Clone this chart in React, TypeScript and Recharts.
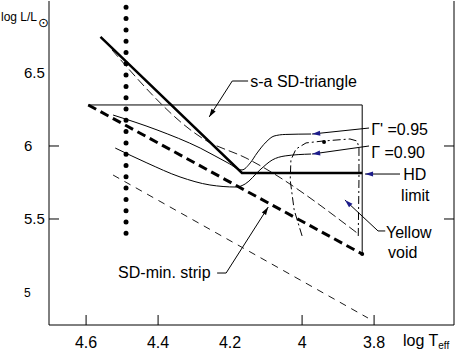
import React from 'react';
import { LineChart, Line, XAxis, YAxis, ReferenceLine, ReferenceDot } from 'recharts';

const FONT = '"Liberation Sans", Arial, Helvetica, sans-serif';

// Axes
const xDomain = [3.578, 4.703];
const yDomain = [4.774, 6.993];
const xTicks = [4.6, 4.4, 4.2, 4, 3.8];
const xTickLabels = ['4.6', '4.4', '4.2', '4', '3.8'];
const xTickMarks = [4.6, 4.4, 4, 3.8];
const yTicks = [6.5, 6, 5.5, 5];
const yTickLabels = ['6.5', '6', '5.5', '5'];
const yTickMarks = [6, 5.5];

// Series (log Teff, log L/Lsun)
const dotColumn = [
  { x: 4.489, y: 6.95 },
  { x: 4.489, y: 5.402 },
];
const hdLimit = [
  { x: 4.56, y: 6.747 },
  { x: 4.167, y: 5.815 },
  { x: 3.833, y: 5.815 },
];
const triangleEdges = [
  { x: 4.594, y: 6.281 },
  { x: 3.833, y: 6.281 },
  { x: 3.833, y: 5.26 },
];
const sdMinStrip = [
  { x: 4.594, y: 6.281 },
  { x: 3.833, y: 5.26 },
];
const trackGamma095 = [
  { x: 4.525, y: 6.212 },
  { x: 4.403, y: 6.11 },
  { x: 4.283, y: 5.986 },
  { x: 4.206, y: 5.884 },
  { x: 4.167, y: 5.836 },
  { x: 4.144, y: 5.884 },
  { x: 4.125, y: 5.952 },
  { x: 4.1, y: 6.027 },
  { x: 4.078, y: 6.068 },
  { x: 4.047, y: 6.079 },
  { x: 3.975, y: 6.082 },
];
const trackGamma090 = [
  { x: 4.519, y: 5.986 },
  { x: 4.431, y: 5.884 },
  { x: 4.339, y: 5.788 },
  { x: 4.256, y: 5.733 },
  { x: 4.183, y: 5.719 },
  { x: 4.158, y: 5.74 },
  { x: 4.117, y: 5.836 },
  { x: 4.083, y: 5.904 },
  { x: 4.047, y: 5.932 },
  { x: 3.975, y: 5.945 },
];
const dashedUpper = [
  { x: 4.528, y: 6.658 },
  { x: 4.269, y: 6.041 },
  { x: 4.156, y: 5.918 },
  { x: 3.847, y: 5.404 },
];
const dashedLower = [
  { x: 4.525, y: 5.801 },
  { x: 3.817, y: 4.822 },
];
const yellowLoop = [
  { x: 4.0, y: 5.384 },
  { x: 4.022, y: 5.562 },
  { x: 4.033, y: 5.767 },
  { x: 4.031, y: 5.904 },
  { x: 4.017, y: 5.979 },
  { x: 3.989, y: 6.021 },
  { x: 3.942, y: 6.034 },
  { x: 3.867, y: 6.048 },
  { x: 3.847, y: 6.034 },
  { x: 3.842, y: 5.986 },
  { x: 3.842, y: 5.767 },
  { x: 3.844, y: 5.377 },
];
const markerDots = [
  { x: 3.833, y: 5.26 },
  { x: 3.939, y: 6.027 },
];

// Annotations
const labels = [
  { text: 's-a SD-triangle', x: 4.144, y: 6.404 },
  { text: "Γ' =0.95", x: 3.808, y: 6.075 },
  { text: 'Γ =0.90', x: 3.808, y: 5.918 },
  { text: 'HD', x: 3.719, y: 5.767 },
  { text: 'limit', x: 3.725, y: 5.623 },
  { text: 'Yellow', x: 3.767, y: 5.37 },
  { text: 'void', x: 3.761, y: 5.233 },
  { text: 'SD-min. strip', x: 4.511, y: 5.096 },
];
const pointers = [
  { pts: [[4.15, 6.445], [4.194, 6.445], [4.258, 6.199]], blue: false },
  { pts: [[3.814, 6.123], [3.972, 6.082]], blue: true },
  { pts: [[3.814, 6.0], [3.972, 5.945]], blue: true },
  { pts: [[3.728, 5.808], [3.825, 5.808]], blue: true },
  { pts: [[3.769, 5.418], [3.789, 5.418], [3.881, 5.63]], blue: true },
  { pts: [[4.236, 5.13], [4.211, 5.13], [4.094, 5.582]], blue: false },
];

const arrowShape = (color: string) => (p: any) => {
  const { x1, y1, x2, y2 } = p;
  const a = Math.atan2(y2 - y1, x2 - x1);
  const L = 8;
  const W = 2.5;
  const bx = x2 - L * Math.cos(a);
  const by = y2 - L * Math.sin(a);
  const pts = `${x2},${y2} ${bx - W * Math.sin(a)},${by + W * Math.cos(a)} ${bx + W * Math.sin(a)},${by - W * Math.cos(a)}`;
  return (
    <g>
      <line x1={x1} y1={y1} x2={x2} y2={y2} stroke="#000" strokeWidth={1} />
      <polygon points={pts} fill={color} />
    </g>
  );
};

const BottomTick = (p: any) => {
  const v = p.payload.value;
  const i = xTicks.indexOf(v);
  return (
    <g>
      {xTickMarks.includes(v) && <line x1={p.x} x2={p.x} y1={p.y} y2={p.y - 10} stroke="#000" />}
      <text x={p.x} y={p.y + 23} textAnchor="middle" fontSize={16} fontFamily={FONT} fill="#000">
        {i >= 0 ? xTickLabels[i] : String(v)}
      </text>
    </g>
  );
};

const TopTick = (p: any) => {
  const v = p.payload.value;
  return xTickMarks.includes(v) ? <line x1={p.x} x2={p.x} y1={p.y} y2={p.y + 10} stroke="#000" /> : <g />;
};

const LeftTick = (p: any) => {
  const v = p.payload.value;
  const i = yTicks.indexOf(v);
  const small = v === 5;
  return (
    <g>
      {yTickMarks.includes(v) && <line x1={p.x} x2={p.x + 10} y1={p.y} y2={p.y} stroke="#000" />}
      <text x={p.x - 25} y={p.y + (small ? 5 : 5.5)} textAnchor="start" fontSize={small ? 12 : 15} fontFamily={FONT} fill="#000">
        {i >= 0 ? yTickLabels[i] : String(v)}
      </text>
    </g>
  );
};

const RightTick = (p: any) => {
  const v = p.payload.value;
  return yTickMarks.includes(v) ? <line x1={p.x} x2={p.x - 10} y1={p.y} y2={p.y} stroke="#000" /> : <g />;
};

const YLabel = (props: any) => {
  const vb = props.viewBox || { x: 0, y: 1 };
  return (
    <text x={vb.x + 1} y={vb.y + 20} fontSize={12} fontFamily={FONT} fill="#000">
      log L/L
      <tspan dx={1} dy={6} fontSize={13} fontFamily="DejaVu Sans">⊙</tspan>
    </text>
  );
};

const XLabel = (props: any) => {
  const vb = props.viewBox || { x: 49, y: 325, width: 405 };
  return (
    <text x={vb.x + vb.width - 51} y={vb.y + 21} fontSize={16} fontFamily={FONT} fill="#000">
      log T
      <tspan fontSize={10} dy={3}>eff</tspan>
    </text>
  );
};

export default function App() {
  return (
    <div style={{ position: 'absolute', left: 0, top: 0, width: 455, height: 352, background: '#fff' }}>
      <LineChart width={455} height={352} margin={{ top: 1, right: 0, bottom: 0, left: 0 }}>
        <XAxis
          dataKey="x"
          type="number"
          domain={xDomain}
          reversed
          allowDataOverflow
          ticks={xTicks}
          tick={<BottomTick />}
          tickLine={false}
          tickSize={0}
          tickMargin={0}
          height={27}
          stroke="#000"
          interval={0}
          label={XLabel}
        />
        <XAxis
          xAxisId="top"
          orientation="top"
          dataKey="x"
          type="number"
          domain={xDomain}
          reversed
          allowDataOverflow
          ticks={xTicks}
          tick={<TopTick />}
          tickLine={false}
          tickSize={0}
          tickMargin={0}
          height={0}
          stroke="#000"
          interval={0}
        />
        <YAxis
          type="number"
          domain={yDomain}
          allowDataOverflow
          ticks={yTicks}
          tick={<LeftTick />}
          tickLine={false}
          tickSize={0}
          tickMargin={0}
          width={49}
          stroke="#000"
          interval={0}
          label={YLabel}
        />
        <YAxis
          yAxisId="right"
          orientation="right"
          type="number"
          domain={yDomain}
          allowDataOverflow
          ticks={yTicks}
          tick={<RightTick />}
          tickLine={false}
          tickSize={0}
          tickMargin={0}
          width={1}
          stroke="#000"
          interval={0}
        />

        <Line data={dotColumn} dataKey="y" type="linear" stroke="#000" strokeWidth={5} strokeDasharray="0 11.3" strokeLinecap="round" dot={false} isAnimationActive={false} />
        <Line data={triangleEdges} dataKey="y" type="linear" stroke="#000" strokeWidth={1} dot={false} isAnimationActive={false} />
        <Line data={sdMinStrip} dataKey="y" type="linear" stroke="#000" strokeWidth={3} strokeDasharray="9 5" dot={false} isAnimationActive={false} />
        <Line data={hdLimit} dataKey="y" type="linear" stroke="#000" strokeWidth={2.5} dot={false} isAnimationActive={false} />
        <Line data={dashedUpper} dataKey="y" type="monotone" stroke="#000" strokeWidth={0.9} strokeDasharray="9 4" dot={false} isAnimationActive={false} />
        <Line data={dashedLower} dataKey="y" type="linear" stroke="#000" strokeWidth={0.9} strokeDasharray="7 6" dot={false} isAnimationActive={false} />
        <Line data={trackGamma095} dataKey="y" type="monotone" stroke="#000" strokeWidth={1} dot={false} isAnimationActive={false} />
        <Line data={trackGamma090} dataKey="y" type="monotone" stroke="#000" strokeWidth={1} dot={false} isAnimationActive={false} />
        <Line data={yellowLoop} dataKey="y" type="linear" stroke="#000" strokeWidth={1} strokeDasharray="8 3 2 3" dot={false} isAnimationActive={false} />

        {markerDots.map((d, i) => (
          <ReferenceDot key={'md' + i} x={d.x} y={d.y} r={2} fill="#000" stroke="none" ifOverflow="visible" />
        ))}

        {pointers.map((pt, i) =>
          pt.pts.slice(0, -1).map((p0, j) => {
            const p1 = pt.pts[j + 1];
            const last = j === pt.pts.length - 2;
            return (
              <ReferenceLine
                key={'pt' + i + '-' + j}
                segment={[{ x: p0[0], y: p0[1] }, { x: p1[0], y: p1[1] }]}
                stroke="#000"
                strokeWidth={1}
                ifOverflow="visible"
                shape={last ? arrowShape(pt.blue ? '#1c1c8a' : '#000') : undefined}
              />
            );
          })
        )}

        {labels.map((l, i) => (
          <ReferenceDot
            key={'lb' + i}
            x={l.x}
            y={l.y}
            r={0}
            ifOverflow="visible"
            shape={(p: any) => (
              <text x={p.cx} y={p.cy} fontSize={16} fontFamily={FONT} fill="#000">
                {l.text}
              </text>
            )}
          />
        ))}
      </LineChart>
    </div>
  );
}
